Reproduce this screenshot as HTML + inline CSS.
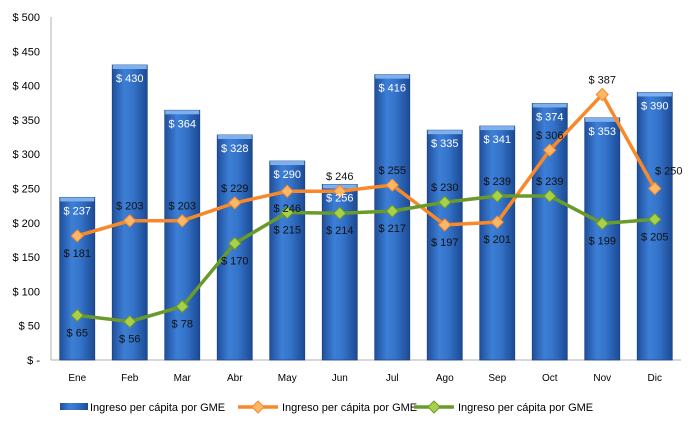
<!DOCTYPE html>
<html><head><meta charset="utf-8"><style>
body{margin:0;background:#fff;font-family:"Liberation Sans",sans-serif}
svg text{font-family:"Liberation Sans",sans-serif}
</style></head><body>
<svg id="c" width="688" height="428" xmlns="http://www.w3.org/2000/svg">
<defs>
<linearGradient id="bg" x1="0" x2="1" y1="0" y2="0">
<stop offset="0" stop-color="#1f4f9c"/><stop offset="0.35" stop-color="#3d7fd6"/><stop offset="0.6" stop-color="#3473c9"/><stop offset="1" stop-color="#1c4a94"/>
</linearGradient>
</defs>
<g id="axes"></g><g id="bars"></g><g id="lines"></g><g id="labels"></g>
</svg>
<script>
const categories=["Ene","Feb","Mar","Abr","May","Jun","Jul","Ago","Sep","Oct","Nov","Dic"];
const barValues=[237,430,364,328,290,256,416,335,341,374,353,390];
const orangeValues=[181,203,203,229,246,246,255,197,201,306,387,250];
const greenValues=[65,56,78,170,215,214,217,230,239,239,199,205];
const yTicks=[0,50,100,150,200,250,300,350,400,450,500];
const orangeLabelPos=["b","a","a","a","b","a","a","b","b","a","a","r"];
const greenLabelPos=["b","b","b","b","b","b","b","a","a","a","b","b"];
const NS="http://www.w3.org/2000/svg";
const x0=51,x1=681,y0=360,y1=17;
const bw=(x1-x0)/categories.length;
const X=i=>x0+bw*(i+0.5);
const Y=v=>y0-(v/500)*(y0-y1);
function mk(t,a,p,txt){const e=document.createElementNS(NS,t);for(const k in a)e.setAttribute(k,a[k]);if(txt!==undefined)e.textContent=txt;p.appendChild(e);return e;}
const ax=document.getElementById('axes'),bars=document.getElementById('bars'),ln=document.getElementById('lines'),lb=document.getElementById('labels');
let e=mk('line',{x1:x0,y1:y1,x2:x0,y2:y0,stroke:'#b0b0b0'},ax);

e=mk('line',{x1:x0,y1:y0,x2:x1,y2:y0,stroke:'#b0b0b0'},ax);

yTicks.forEach(v=>{
 const t=mk('text',{x:40,y:Y(v)+4,'text-anchor':'end','font-size':11,fill:'#000'},ax,v===0?'$ -':'$ '+v);
 
});
categories.forEach((c,i)=>{
 const t=mk('text',{x:X(i),y:381,'text-anchor':'middle','font-size':10,fill:'#000'},ax,c);
 
 const v=barValues[i];
 const r=mk('rect',{x:X(i)-17.5,y:Y(v),width:35,height:y0-Y(v),fill:'url(#bg)',stroke:'#1d4585','stroke-width':0.8},bars);
 
 const h=mk('rect',{x:X(i)-17,y:Y(v),width:34,height:4,fill:'#7fb0ee'},bars);
 
 const l=mk('text',{x:X(i),y:Y(v)+17,'text-anchor':'middle','font-size':11,fill:'#fff'},lb,'$ '+v);
 
});
function series(vals,pos,col,mcol,name){
 const pts=vals.map((v,i)=>X(i)+','+Y(v)).join(' ');
 const p=mk('polyline',{points:pts,fill:'none',stroke:col,'stroke-width':3.5},ln);
 
 vals.forEach((v,i)=>{
  const x=X(i),y=Y(v);
  const m=mk('polygon',{points:`${x},${y-6} ${x+6},${y} ${x},${y+6} ${x-6},${y}`,fill:mcol,stroke:col,'stroke-width':1},ln);
  
  let tx=x,ty=y+21,anc='middle';
  if(pos[i]==='a')ty=y-11;
  if(pos[i]==='r'){tx=x+14;ty=y-14;anc='middle';}
  const t=mk('text',{x:tx,y:ty,'text-anchor':anc,'font-size':11,fill:'#111'},lb,'$ '+v);
  
 });
}
series(orangeValues,orangeLabelPos,'#f7892a','#fbb868','orange-series');
series(greenValues,greenLabelPos,'#6a9a2a','#a8d048','green-series');
const lg=mk('g',{},document.getElementById('c'));

const items=[[60,'bar'],[238,'#f7892a'],[414,'#6a9a2a']];
items.forEach(([x,k],i)=>{
 if(k==='bar'){const r=mk('rect',{x:x,y:403,width:28,height:7,fill:'url(#bg)'},lg);}
 else{const l=mk('line',{x1:x,y1:407,x2:x+40,y2:407,stroke:k,'stroke-width':3.5},lg);
  const m=mk('polygon',{points:`${x+20},${401} ${x+26},${407} ${x+20},${413} ${x+14},${407}`,fill:i===1?'#fbb868':'#a8d048',stroke:k},lg);}
 const t=mk('text',{x:k==='bar'?x+30:x+44,y:411,'font-size':11,fill:'#000'},lg,'Ingreso per cápita por GME');
 
});
</script>
</body></html>
